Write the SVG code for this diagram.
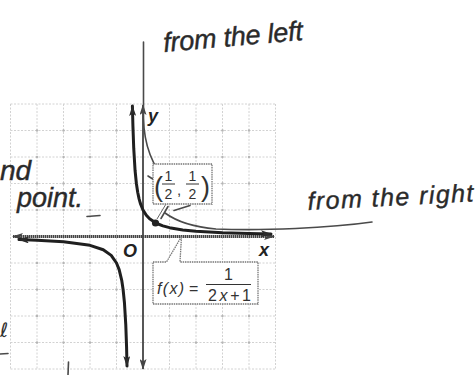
<svg xmlns="http://www.w3.org/2000/svg" width="476" height="375" viewBox="0 0 476 375">
  <defs>
    <marker id="arr" viewBox="0 0 11 7" refX="10" refY="3.5" markerWidth="11" markerHeight="7" markerUnits="userSpaceOnUse" orient="auto-start-reverse">
      <path d="M0,0 L11,3.5 L0,7 L2.5,3.5 Z" fill="#2a2a2a"/>
    </marker>
    <marker id="arrAx" viewBox="0 0 11 7" refX="10" refY="3.5" markerWidth="11" markerHeight="7" markerUnits="userSpaceOnUse" orient="auto-start-reverse">
      <path d="M0,0 L11,3.5 L0,7 L2.5,3.5 Z" fill="#444"/>
    </marker>
  </defs>
  <style>
    .grid line { stroke: #d2d2d2; stroke-width: 1; stroke-dasharray: 2 1.5; }
    .gdot { fill: #b5b5b5; }
    .axis { stroke: #444; fill: none; }
    .curve { stroke: #1f1f1f; stroke-width: 3; fill: none; stroke-linejoin: round; stroke-linecap: round; }
    .box { fill: #fff; stroke: #777; stroke-width: 1.3; stroke-dasharray: 1.5 0.8; }
    .math { font-family: "Liberation Sans", Arial, sans-serif; fill: #333; }
    .axlbl { font-family: "Liberation Sans", Arial, sans-serif; font-weight: bold; font-style: italic; fill: #222; font-size: 18px; }
    .hand { font-family: "Liberation Sans", Arial, sans-serif; font-style: italic; fill: #2a2a2a; stroke: #2a2a2a; stroke-width: 0.4; }
    .pen { stroke: #4a4a4a; stroke-width: 1.6; fill: none; stroke-linecap: round; stroke-linejoin: round; }
    .lead { stroke: #666; stroke-width: 1; fill: none; }
  </style>
  <rect width="476" height="375" fill="#fff"/>

  <g id="grid" class="grid">
    <line x1="10.5" y1="104" x2="10.5" y2="369"/>
    <line x1="37" y1="104" x2="37" y2="369"/>
    <line x1="63.5" y1="104" x2="63.5" y2="369"/>
    <line x1="90" y1="104" x2="90" y2="369"/>
    <line x1="116.5" y1="104" x2="116.5" y2="369"/>
    <line x1="169.5" y1="104" x2="169.5" y2="369"/>
    <line x1="196" y1="104" x2="196" y2="369"/>
    <line x1="222.5" y1="104" x2="222.5" y2="369"/>
    <line x1="249" y1="104" x2="249" y2="369"/>
    <line x1="275.5" y1="104" x2="275.5" y2="369"/>
    <line x1="10.5" y1="104" x2="275.5" y2="104"/>
    <line x1="10.5" y1="130.5" x2="275.5" y2="130.5"/>
    <line x1="10.5" y1="157" x2="275.5" y2="157"/>
    <line x1="10.5" y1="183.5" x2="275.5" y2="183.5"/>
    <line x1="10.5" y1="210" x2="275.5" y2="210"/>
    <line x1="10.5" y1="263" x2="275.5" y2="263"/>
    <line x1="10.5" y1="289.5" x2="275.5" y2="289.5"/>
    <line x1="10.5" y1="316" x2="275.5" y2="316"/>
    <line x1="10.5" y1="342.5" x2="275.5" y2="342.5"/>
    <line x1="10.5" y1="369" x2="275.5" y2="369"/>
    <g class="gdot">
      <circle cx="37" cy="130.5" r="1.2"/><circle cx="63.5" cy="130.5" r="1.2"/><circle cx="90" cy="130.5" r="1.2"/><circle cx="116.5" cy="130.5" r="1.2"/><circle cx="196" cy="130.5" r="1.2"/><circle cx="222.5" cy="130.5" r="1.2"/><circle cx="249" cy="130.5" r="1.2"/>
      <circle cx="37" cy="157" r="1.2"/><circle cx="63.5" cy="157" r="1.2"/><circle cx="90" cy="157" r="1.2"/><circle cx="116.5" cy="157" r="1.2"/><circle cx="196" cy="157" r="1.2"/><circle cx="222.5" cy="157" r="1.2"/><circle cx="249" cy="157" r="1.2"/>
      <circle cx="37" cy="183.5" r="1.2"/><circle cx="63.5" cy="183.5" r="1.2"/><circle cx="90" cy="183.5" r="1.2"/><circle cx="116.5" cy="183.5" r="1.2"/><circle cx="222.5" cy="183.5" r="1.2"/><circle cx="249" cy="183.5" r="1.2"/>
      <circle cx="37" cy="210" r="1.2"/><circle cx="63.5" cy="210" r="1.2"/><circle cx="90" cy="210" r="1.2"/><circle cx="116.5" cy="210" r="1.2"/><circle cx="222.5" cy="210" r="1.2"/><circle cx="249" cy="210" r="1.2"/>
      <circle cx="37" cy="263" r="1.2"/><circle cx="63.5" cy="263" r="1.2"/><circle cx="90" cy="263" r="1.2"/><circle cx="116.5" cy="263" r="1.2"/>
      <circle cx="37" cy="289.5" r="1.2"/><circle cx="63.5" cy="289.5" r="1.2"/><circle cx="90" cy="289.5" r="1.2"/><circle cx="116.5" cy="289.5" r="1.2"/>
      <circle cx="37" cy="316" r="1.2"/><circle cx="63.5" cy="316" r="1.2"/><circle cx="90" cy="316" r="1.2"/><circle cx="116.5" cy="316" r="1.2"/><circle cx="169.5" cy="316" r="1.2"/><circle cx="196" cy="316" r="1.2"/><circle cx="222.5" cy="316" r="1.2"/><circle cx="249" cy="316" r="1.2"/>
      <circle cx="37" cy="342.5" r="1.2"/><circle cx="63.5" cy="342.5" r="1.2"/><circle cx="90" cy="342.5" r="1.2"/><circle cx="116.5" cy="342.5" r="1.2"/><circle cx="169.5" cy="342.5" r="1.2"/><circle cx="196" cy="342.5" r="1.2"/><circle cx="222.5" cy="342.5" r="1.2"/><circle cx="249" cy="342.5" r="1.2"/>
    </g>
  </g>

  <g id="axes">
    <line class="axis" x1="13" y1="236.5" x2="274" y2="236.5" stroke-width="3.2" stroke-dasharray="1.5 0.5" marker-start="url(#arrAx)" marker-end="url(#arrAx)"/>
    <line class="axis" x1="143" y1="105" x2="143" y2="369" stroke-width="1.8" marker-start="url(#arrAx)" marker-end="url(#arrAx)"/>
    <text class="axlbl" x="148" y="122">y</text>
    <text class="axlbl" x="259" y="256">x</text>
    <text class="axlbl" x="123" y="257">O</text>
  </g>

  <g id="graph-curve">
    <path class="curve" marker-start="url(#arr)" marker-end="url(#arr)" d="M132.4,106 L132.93,126.1 L133.73,148.2 L135.05,170.25 L136.38,183.5 L137.7,192.3 L139.03,198.64 L140.35,203.4 L143,210 L146.31,215.3 L149.6,218.8 L156.25,223.25 L162.9,225.9 L169.5,227.67 L182.75,229.9 L196,231.2 L222.5,232.7 L249,233.56 L271,234"/>
    <path class="curve" marker-start="url(#arr)" marker-end="url(#arr)" d="M19,239.6 L37,240.3 L63.5,241.8 L90,245.3 L103.25,249.75 L111.2,255.4 L116.5,263 L119.15,269.6 L121.8,280.7 L123.1,289.5 L124.45,302.75 L125.78,324.8 L126.57,346.9 L127,366"/>
    <circle cx="155.5" cy="223" r="3.6" fill="#222"/>
  </g>

  <g id="connectors">
    <path class="lead" d="M166,204 L157,219"/>
    <path class="pen" d="M143.5,42 L143.5,118 C144,146 152,164 169,188"/>
    <path class="pen" d="M148,176 L159,183"/>
    <path class="pen" d="M372,222 C330,228 262,231 216,229 C192,227 176,221 165,213"/>
    <path class="pen" d="M190,205.5 L174,210.5"/>
    <path class="pen" d="M168,206.5 L161,218.5"/>
  </g>

  <g id="point-label">
    <rect class="box" x="153" y="164" width="59" height="40"/>
    <text class="math" x="154" y="196" font-size="27">(</text>
    <text class="math" x="168.5" y="181" font-size="14" text-anchor="middle">1</text>
    <line x1="162" y1="184" x2="175" y2="184" stroke="#333" stroke-width="1"/>
    <text class="math" x="168.5" y="199" font-size="14" text-anchor="middle">2</text>
    <text class="math" x="177" y="195" font-size="15">,</text>
    <text class="math" x="192.5" y="181" font-size="14" text-anchor="middle">1</text>
    <line x1="186" y1="184" x2="199" y2="184" stroke="#333" stroke-width="1"/>
    <text class="math" x="192.5" y="199" font-size="14" text-anchor="middle">2</text>
    <text class="math" x="201" y="196" font-size="27">)</text>
  </g>

  <g id="function-label">
    <path class="box" d="M153,262 H166.5 L181.5,236.5 L180,262 H258 V304 H153 Z"/>
    <text class="math" x="157" y="294" font-size="16" textLength="27" font-style="italic">f(x)</text>
    <text class="math" x="189" y="294" font-size="16">=</text>
    <text class="math" x="228.5" y="280" font-size="16" text-anchor="middle">1</text>
    <line x1="206" y1="284.5" x2="251" y2="284.5" stroke="#333" stroke-width="1.2"/>
    <text class="math" x="208" y="301" font-size="16" textLength="43">2<tspan font-style="italic">x</tspan>+1</text>
  </g>

  <g id="handwriting">
    <text class="hand" x="164" y="52" font-size="27" textLength="140" transform="rotate(-5 164 52)">from the left</text>
    <text class="hand" x="308" y="210" font-size="25" textLength="166" transform="rotate(-3 308 210)">from the right</text>
    <text class="hand" x="0" y="180" font-size="28">nd</text>
    <text class="hand" x="17" y="207" font-size="27" textLength="66">point.</text>
    <path class="pen" d="M87,216.5 L100,215.5"/>
    <text x="0" y="337" font-family="DejaVu Sans, sans-serif" font-size="20" fill="#333">ℓ</text>
    <path class="pen" d="M0,354 L8,353.5"/>
    <path class="pen" d="M68.5,362 L68,375"/>
  </g>
</svg>
